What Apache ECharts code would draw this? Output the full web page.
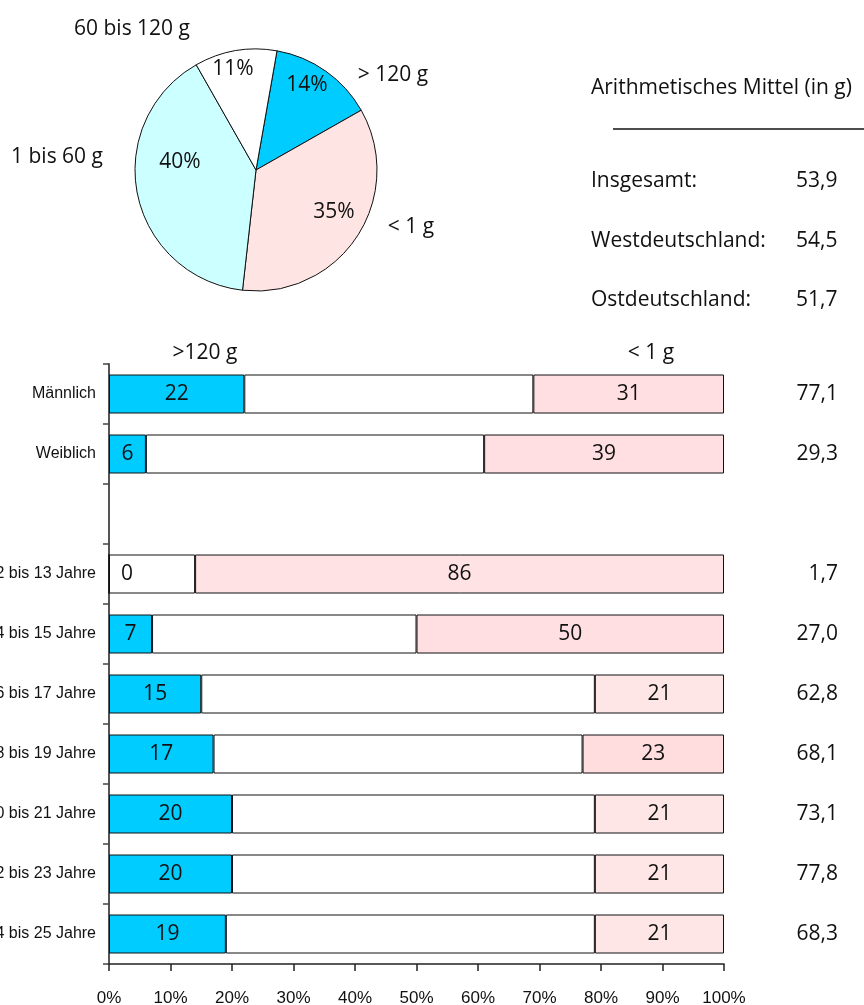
<!DOCTYPE html>
<html>
<head>
<meta charset="utf-8">
<script src="https://cdn.jsdelivr.net/npm/echarts@6/dist/echarts.min.js"></script>
<style>
html,body{margin:0;padding:0;background:#fff;}
#c{width:864px;height:1005px;}
</style>
</head>
<body>
<div id="c"></div>
<script>
// ---- Data ----
const pieNames = ['> 120 g', '< 1 g', '1 bis 60 g', '60 bis 120 g'];
const pieValues = [14, 35, 40, 11];

const meanLabels = ['Insgesamt:', 'Westdeutschland:', 'Ostdeutschland:'];
const meanValues = ['53,9', '54,5', '51,7'];

const categories = ['Männlich', 'Weiblich', '', '12 bis 13 Jahre', '14 bis 15 Jahre', '16 bis 17 Jahre', '18 bis 19 Jahre', '20 bis 21 Jahre', '22 bis 23 Jahre', '24 bis 25 Jahre'];
const over120 = [22, 6, null, 0, 7, 15, 17, 20, 20, 19];
const middle = [47, 55, null, 14, 43, 64, 60, 59, 59, 60];
const under1 = [31, 39, null, 86, 50, 21, 23, 21, 21, 21];
const groupMeans = ['77,1', '29,3', '', '1,7', '27,0', '62,8', '68,1', '73,1', '77,8', '68,3'];

// ---- Layout / style (not data) ----
const pieColors = ['#00CCFF', '#FFE4E4', '#CCFFFF', '#FFFFFF'];
const pctPos = [[307, 85], [334, 212], [180, 162], [233, 69]];
const namePos = [[393, 75], [411, 227], [57, 157], [132, 29]];
const pinkShade = ['#FFDFE1', '#FFDFE1', '#FFDFE1', '#FFE2E4', '#FFDFE1', '#FFE6E6', '#FFDDDF', '#FFE6E6', '#FFE6E6', '#FFE6E6'];
const mainFont = 'Open Sans';
const axisFont = 'Liberation Sans';

const chart = echarts.init(document.getElementById('c'), null, {renderer: 'canvas'});

const pieData = pieNames.map((n, i) => ({name: n, value: pieValues[i], itemStyle: {color: pieColors[i]}}));

const option = {
  animation: false,
  backgroundColor: '#ffffff',
  textStyle: {fontFamily: mainFont, color: '#111'},
  grid: {left: 109, right: 140, top: 364, bottom: 41, outerBoundsMode: 'none'},
  xAxis: {
    type: 'value', min: 0, max: 100, interval: 10,
    axisLine: {show: true, lineStyle: {color: '#222', width: 1.5}},
    axisTick: {show: true, length: 7, lineStyle: {color: '#222', width: 1.5}},
    splitLine: {show: false},
    axisLabel: {formatter: '{value}%', fontFamily: axisFont, fontSize: 17, color: '#111', margin: 26}
  },
  yAxis: [{
    type: 'category', data: categories, inverse: true,
    axisLine: {show: true, lineStyle: {color: '#555', width: 2}},
    axisTick: {show: true, length: 6, lineStyle: {color: '#444', width: 1.5}},
    axisLabel: {fontFamily: axisFont, fontSize: 16, color: '#111', margin: 13}
  }, {
    type: 'category', data: categories, inverse: true, position: 'right',
    axisLine: {show: false}, axisTick: {show: false},
    axisLabel: {
      formatter: (v, i) => groupMeans[i],
      align: 'right', margin: 114, fontFamily: mainFont, fontSize: 21, color: '#111'
    }
  }],
  graphic: [
    {type: 'text', left: 591, top: 78, style: {text: 'Arithmetisches Mittel (in g)', fontFamily: mainFont, fontSize: 21, fill: '#111'}},
    {type: 'line', shape: {x1: 613, y1: 129, x2: 864, y2: 129}, style: {stroke: '#111', lineWidth: 1.5}},
    ...meanLabels.map((t, i) => ({type: 'text', left: 591, top: 171 + i * 59.5, style: {text: t, fontFamily: mainFont, fontSize: 21, fill: '#111'}})),
    ...meanValues.map((t, i) => ({type: 'text', left: 796, top: 171 + i * 59.5, style: {text: t, fontFamily: mainFont, fontSize: 21, fill: '#111'}})),
    {type: 'text', x: 205, y: 353, style: {text: '>120 g', fontFamily: mainFont, fontSize: 21, fill: '#111', align: 'center', verticalAlign: 'middle'}},
    {type: 'text', x: 651, y: 353, style: {text: '< 1 g', fontFamily: mainFont, fontSize: 21, fill: '#111', align: 'center', verticalAlign: 'middle'}}
  ],
  series: [
    {
      type: 'pie', center: [256, 170], radius: 121, startAngle: 80, clockwise: true,
      data: pieData,
      itemStyle: {borderColor: '#111', borderWidth: 1},
      label: {show: true, position: 'inside', formatter: '{c}%', fontFamily: mainFont, fontSize: 21, color: '#111'},
      labelLine: {show: false},
      labelLayout: (p) => ({x: pctPos[p.dataIndex][0], y: pctPos[p.dataIndex][1], align: 'center', verticalAlign: 'middle'}),
      emphasis: {disabled: true}, silent: true
    },
    {
      type: 'pie', center: [256, 170], radius: 121, startAngle: 80, clockwise: true,
      data: pieNames.map((n, i) => ({name: n, value: pieValues[i]})),
      itemStyle: {color: 'rgba(0,0,0,0)', borderWidth: 0},
      label: {show: true, position: 'outside', formatter: '{b}', fontFamily: mainFont, fontSize: 21, color: '#111', overflow: 'none', width: 200},
      labelLine: {show: false},
      labelLayout: (p) => ({x: namePos[p.dataIndex][0], y: namePos[p.dataIndex][1], align: 'center', verticalAlign: 'middle', width: 200}),
      emphasis: {disabled: true}, silent: true
    },
    {
      type: 'bar', stack: 'a', barWidth: 39,
      data: over120.map((v, i) => (v === 0 ? {value: v, label: {offset: [18, 0]}} : v)),
      itemStyle: {color: '#00CCFF', borderColor: '#111', borderWidth: 1},
      label: {show: true, position: 'inside', fontFamily: mainFont, fontSize: 21, color: '#111'},
      silent: true
    },
    {
      type: 'bar', stack: 'a', barWidth: 39,
      data: middle,
      itemStyle: {color: '#FFFFFF', borderColor: '#111', borderWidth: 1},
      label: {show: false},
      silent: true
    },
    {
      type: 'bar', stack: 'a', barWidth: 39,
      data: under1.map((v, i) => (v === null ? null : {value: v, itemStyle: {color: pinkShade[i]}})),
      itemStyle: {borderColor: '#111', borderWidth: 1},
      label: {show: true, position: 'inside', fontFamily: mainFont, fontSize: 21, color: '#111'},
      silent: true
    }
  ]
};
chart.setOption(option);
</script>
</body>
</html>
